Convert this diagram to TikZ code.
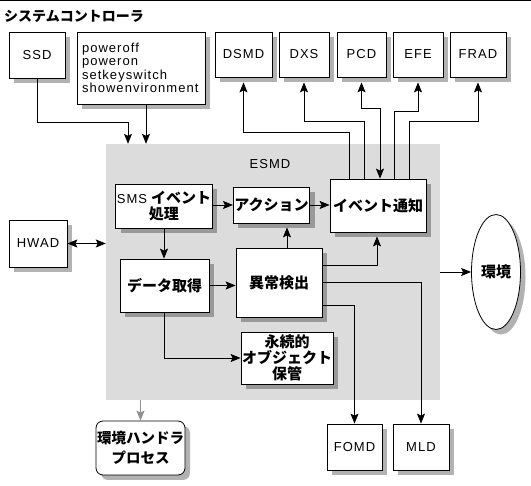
\documentclass[tikz,border=0pt]{standalone}
\usepackage{fontspec}
\setmainfont{Liberation Sans}[LetterSpace=8]
\newfontfamily\jp{Noto Sans CJK JP}
\usetikzlibrary{arrows.meta,shadows,shapes.geometric}
\definecolor{esmdgray}{HTML}{DCDCDC}
\definecolor{linkgray}{HTML}{909090}
\begin{document}
\begin{tikzpicture}[x=1pt,y=-1pt,
  box/.style={draw,fill=white,line width=0.8pt,
    drop shadow={shadow xshift=5pt,shadow yshift=-5pt,fill=black,opacity=0.3},
    inner sep=2pt,align=center,font=\fontsize{13}{13.3}\selectfont},
  jbox/.style={box,font=\jp\bfseries\fontsize{15}{16}\selectfont},
  arr/.style={-{Stealth[length=10pt,width=8pt,inset=2pt]},line width=0.8pt},
  arrtwo/.style={{Stealth[length=10pt,width=8pt,inset=2pt]}-{Stealth[length=10pt,width=8pt,inset=2pt]},line width=0.8pt}]
\useasboundingbox (0,0) rectangle (531,486);
\fill[white] (0,0) rectangle (531,486);
\draw[line width=1pt] (0,0.6) -- (531,0.6);

\node[anchor=west,inner sep=0,font=\jp\bfseries\fontsize{14}{14}\selectfont] (title) at (4,16.5) {システムコントローラ};

% ESMD region
\node[fill=esmdgray,minimum width=334pt,minimum height=256pt,inner sep=0] (esmd) at (273,272) {};
\node[font=\fontsize{13}{13.3}\selectfont] (esmdlbl) at (270,164) {ESMD};

% top boxes
\node[box,minimum width=56pt,minimum height=46pt] (ssd) at (37,55) {SSD};
\node[box,minimum width=128pt,minimum height=72pt,text width=118pt,align=left,inner sep=1pt] (cmd) at (141,68) {poweroff\\poweron\\setkeyswitch\\showenvironment};
\node[box,minimum width=57pt,minimum height=45pt] (dsmd) at (243.5,54.5) {DSMD};
\node[box,minimum width=50pt,minimum height=45pt] (dxs) at (304,54.5) {DXS};
\node[box,minimum width=49pt,minimum height=45pt] (pcd) at (361.5,54.5) {PCD};
\node[box,minimum width=50pt,minimum height=45pt] (efe) at (418,54.5) {EFE};
\node[box,minimum width=56pt,minimum height=45pt] (frad) at (478,54.5) {FRAD};

% inner boxes
\node[box,minimum width=96pt,minimum height=44pt,inner sep=1pt] (sms) at (164,206) {SMS\hspace{4pt}{\jp\bfseries\fontsize{15}{15}\selectfont イベント}\\[1pt]{\jp\bfseries\fontsize{15}{15}\selectfont 処理}};
\node[jbox,minimum width=71pt,minimum height=36pt,inner sep=1pt] (action) at (271.5,205) {アクション};
\node[jbox,minimum width=96pt,minimum height=53pt] (notify) at (378,205.5) {イベント通知};
\node[jbox,minimum width=89pt,minimum height=53pt] (data) at (164.5,285.5) {データ取得};
\node[jbox,minimum width=86pt,minimum height=69pt] (anom) at (279,282.5) {異常検出};
\node[jbox,minimum width=92pt,minimum height=52pt,inner sep=1pt] (store) at (287,358) {永続的\\オブジェクト\\保管};

% outside
\node[jbox,ellipse,minimum width=49pt,minimum height=115pt,inner sep=0] (env) at (496,272) {環境};
\node[box,minimum width=58pt,minimum height=47pt] (hwad) at (38,243.5) {HWAD};
\node[jbox,rounded corners=7pt,minimum width=85pt,minimum height=54pt,inner sep=1pt,font=\jp\bfseries\fontsize{14.5}{20}\selectfont] (handler) at (140.5,448) {環境ハンドラ\\プロセス};
\node[box,minimum width=55pt,minimum height=46pt] (fomd) at (354.5,447) {FOMD};
\node[box,minimum width=56pt,minimum height=46pt] (mld) at (421,447) {MLD};

% helper coordinates
\coordinate (j1) at (128,122);
\coordinate (j2) at (146,0);
\coordinate (j4) at (287,248);

% connectors
\draw[arr] (ssd.south) |- (j1) -- (j1 |- esmd.north);
\draw[arr] (cmd.south -| j2) -- (j2 |- esmd.north);

\draw[arr,shorten >=5pt] ([xshift=-29pt]notify.north) -- ++(0,-46) -| (dsmd.south);
\draw[arr,shorten >=5pt] ([xshift=-14pt]notify.north) -- ++(0,-57) -| (dxs.south);
\draw[arrtwo,shorten <=5pt] (pcd.south) -- ++(0,31) -| ([xshift=2pt]notify.north);
\draw[arr,shorten >=5pt] ([xshift=16pt]notify.north) -- ++(0,-67) -| (efe.south);
\draw[arr,shorten >=5pt] ([xshift=31pt]notify.north) -- ++(0,-57) -| (frad.south);

\draw[arr] (sms.east |- action.west) -- (action.west);
\draw[arr] (action.east) -- (action.east -| notify.west);
\draw[arr] (sms.south) -- (sms.south |- data.north);
\draw[arr] (data.east) -- (data.east -| anom.west);
\draw[arr,shorten >=4pt] (j4) -- (j4 |- action.south);
\draw[arr,shorten >=4pt] ([yshift=17.5pt]anom.east) -| ([xshift=-1pt]notify.south);
\draw[arr] (anom.east) -| (mld.north);
\draw[arr] ([yshift=-22.5pt]anom.east) -| (fomd.north);
\draw[arr] (data.south) |- (store.west);

\draw[arr] (esmd.east |- env.west) -- (env.west);
\draw[arrtwo] (hwad.east) -- (hwad.east -| esmd.west);
\draw[arr,linkgray] (handler.north |- esmd.south) -- (handler.north);
\end{tikzpicture}
\end{document}
